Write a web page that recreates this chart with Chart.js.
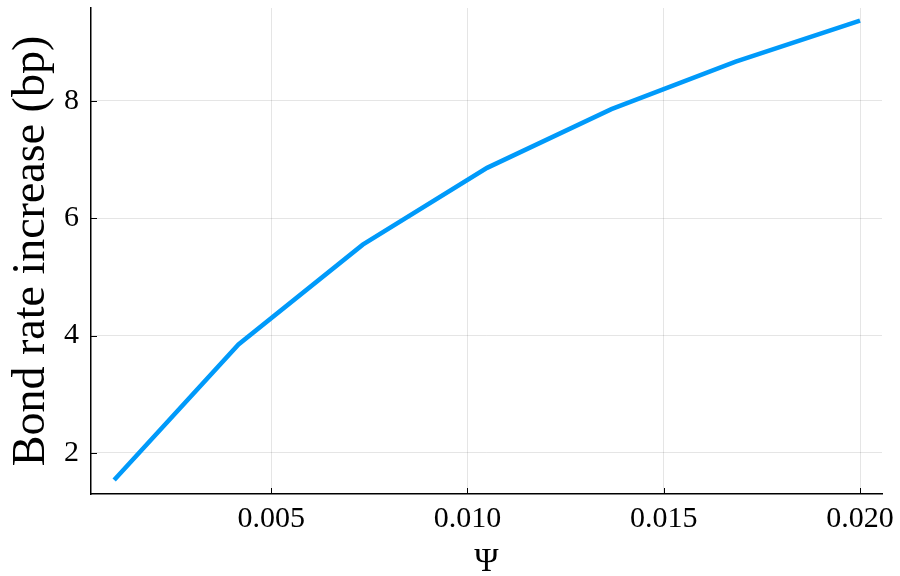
<!DOCTYPE html>
<html>
<head>
<meta charset="utf-8">
<script src="https://cdn.jsdelivr.net/npm/chart.js@4.4.1/dist/chart.umd.min.js"></script>
<style>
  html, body { margin: 0; padding: 0; background: #fff; }
  #wrap { width: 900px; height: 576px; }
</style>
</head>
<body>
<div id="wrap"><canvas id="chart" width="900" height="576"></canvas></div>
<script>
// data
const psiValues = [0.001, 0.004167, 0.007333, 0.0105, 0.013667, 0.016833, 0.020];
const rateIncrease = [1.54, 3.85, 5.55, 6.86, 7.86, 8.67, 9.37];
const xTicks = [0.005, 0.010, 0.015, 0.020];
const yTicks = [2, 4, 6, 8];

const FONT = "'Liberation Serif', 'DejaVu Serif', serif";

// small inward tick marks like the original plot
const innerTicks = {
  id: 'innerTicks',
  afterDraw(chart) {
    const { ctx, chartArea, scales } = chart;
    ctx.save();
    ctx.strokeStyle = '#000';
    ctx.lineWidth = 1;
    ctx.beginPath();
    xTicks.forEach(v => {
      const px = Math.round(scales.x.getPixelForValue(v)) + 0.5;
      ctx.moveTo(px, chartArea.bottom);
      ctx.lineTo(px, chartArea.bottom - 6);
    });
    yTicks.forEach(v => {
      const py = Math.round(scales.y.getPixelForValue(v)) + 0.5;
      ctx.moveTo(chartArea.left, py);
      ctx.lineTo(chartArea.left + 6, py);
    });
    ctx.stroke();
    ctx.restore();
  }
};

new Chart(document.getElementById('chart'), {
  type: 'line',
  data: {
    datasets: [{
      data: psiValues.map((x, i) => ({ x: x, y: rateIncrease[i] })),
      borderColor: '#009AFA',
      borderWidth: 4.5,
      pointRadius: 0,
      tension: 0,
      fill: false
    }]
  },
  options: {
    responsive: false,
    animation: false,
    layout: { padding: { top: 8, right: 18, left: 0, bottom: 0 } },
    plugins: { legend: { display: false }, tooltip: { enabled: false } },
    scales: {
      x: {
        type: 'linear',
        min: 0.00041,
        max: 0.02056,
        afterBuildTicks: s => { s.ticks = xTicks.map(v => ({ value: v })); },
        afterFit: s => { s.height = 82; s.paddingLeft = 0; s.paddingRight = 0; },
        border: { display: true, color: '#000', width: 1.5 },
        grid: { color: 'rgba(0,0,0,0.1)', lineWidth: 1, drawTicks: false },
        ticks: {
          padding: 7,
          color: '#000',
          maxRotation: 0,
          font: { family: FONT, size: 30 },
          callback: v => v.toFixed(3)
        },
        title: {
          display: true,
          text: 'Ψ',
          color: '#000',
          padding: { top: 0, bottom: -6 },
          font: { family: FONT, size: 33 }
        }
      },
      y: {
        type: 'linear',
        min: 1.30,
        max: 9.585,
        afterBuildTicks: s => { s.ticks = yTicks.map(v => ({ value: v })); },
        afterFit: s => { s.width = 91; s.paddingTop = 0; s.paddingBottom = 0; },
        border: { display: true, color: '#000', width: 1.5 },
        grid: { color: 'rgba(0,0,0,0.1)', lineWidth: 1, drawTicks: false },
        ticks: {
          padding: 12,
          color: '#000',
          font: { family: FONT, size: 30 }
        },
        title: {
          display: true,
          text: 'Bond rate increase (bp)',
          color: '#000',
          padding: { top: 4, bottom: 0 },
          font: { family: FONT, size: 46 }
        }
      }
    }
  },
  plugins: [innerTicks]
});
</script>
</body>
</html>
